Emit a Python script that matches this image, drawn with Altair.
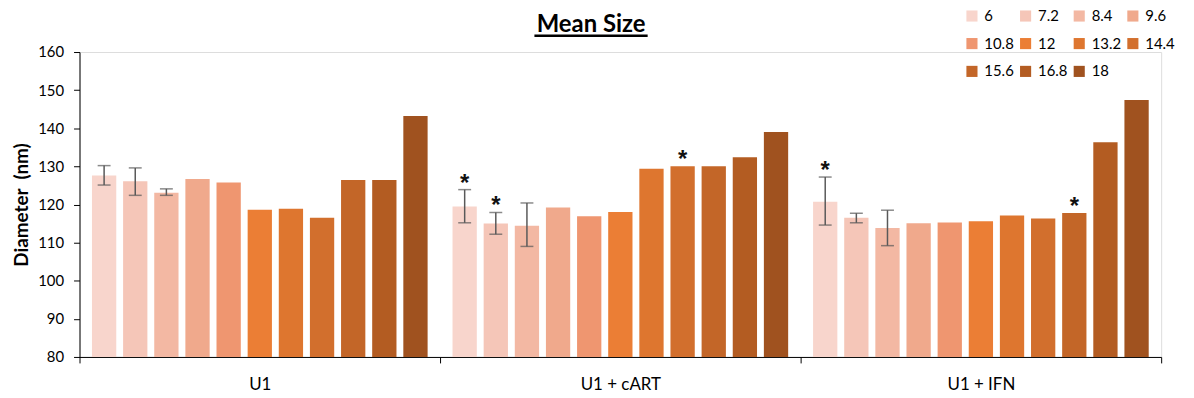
import altair as alt
import pandas as pd

GROUPS = ["U1", "U1 + cART", "U1 + IFN"]
SIZES = ["6", "7.2", "8.4", "9.6", "10.8", "12", "13.2", "14.4", "15.6", "16.8", "18"]
COLORS = ["#F8D5CC", "#F5C6B8", "#F3B8A3", "#F0A98C", "#EF9670", "#EB7E35",
          "#DE762F", "#D26F2D", "#C36628", "#B35C22", "#A0521F"]

MEAN_U1 = [127.6, 126.1, 123.1, 126.7, 125.8, 118.6, 118.9, 116.5, 126.4, 126.4, 143.2]
MEAN_CART = [119.5, 115.0, 114.4, 119.2, 116.9, 118.0, 129.4, 130.0, 130.0, 132.4, 139.0]
MEAN_IFN = [120.7, 116.5, 113.8, 115.1, 115.3, 115.6, 117.1, 116.3, 117.8, 136.3, 147.4]

ERR_GROUP = ["U1", "U1", "U1", "U1 + cART", "U1 + cART", "U1 + cART", "U1 + IFN", "U1 + IFN", "U1 + IFN"]
ERR_SIZE = ["6", "7.2", "8.4", "6", "7.2", "8.4", "6", "7.2", "8.4"]
ERR_LO = [125.1, 122.4, 122.4, 115.2, 112.2, 109.0, 114.6, 115.2, 109.2]
ERR_HI = [130.2, 129.6, 124.1, 123.9, 117.9, 120.4, 127.2, 117.7, 118.5]

STAR_GROUP = ["U1 + cART", "U1 + cART", "U1 + cART", "U1 + IFN", "U1 + IFN"]
STAR_SIZE = ["6", "7.2", "14.4", "6", "15.6"]
STAR_AT = [123.9, 117.9, 130.0, 127.2, 117.8]

TITLE = "Mean Size"
Y_TITLE = "Diameter\u00a0\u00a0(nm)"
Y_TICKS = [80, 90, 100, 110, 120, 130, 140, 150, 160]

FONT = "Lato"

rows = []
for g, vals in zip(GROUPS, [MEAN_U1, MEAN_CART, MEAN_IFN]):
    for s, v in zip(SIZES, vals):
        rows.append({"group": g, "size": s, "value": v})
bars_df = pd.DataFrame(rows)
err_df = pd.DataFrame({"group": ERR_GROUP, "size": ERR_SIZE, "lo": ERR_LO, "hi": ERR_HI})
star_df = pd.DataFrame({"group": STAR_GROUP, "size": STAR_SIZE, "top": STAR_AT})
title_df = pd.DataFrame({"t": [TITLE]})

x_scale = alt.Scale(domain=GROUPS, paddingInner=0, paddingOuter=0)
xo_scale = alt.Scale(domain=SIZES, paddingInner=0.22, paddingOuter=0.4)
y_scale = alt.Scale(domain=[80, 160], nice=False, zero=False)

x_axis = alt.Axis(labelAngle=0, tickBand="extent", tickSize=6, labelPadding=14,
                  labelFontSize=17, labelFont=FONT, labelColor="#000",
                  domainColor="#000", tickColor="#000", grid=False)
y_axis = alt.Axis(values=Y_TICKS, tickSize=6, labelPadding=10, labelFontSize=15,
                  labelFont=FONT, labelColor="#000", titleFont=FONT,
                  titleFontSize=19, titleFontWeight="bold", titleColor="#000",
                  titlePadding=6, domainColor="#000", tickColor="#000", grid=False,
                  labelOverlap=False)


def xpos():
    return alt.X("group:N", scale=x_scale, axis=x_axis, title=None)


def xopos():
    return alt.XOffset("size:N", scale=xo_scale)


def ypos(field):
    return alt.Y(field, scale=y_scale, axis=y_axis, title=Y_TITLE)


bars = alt.Chart(bars_df).mark_bar(clip=True).encode(
    x=xpos(),
    xOffset=xopos(),
    y=ypos("value:Q"),
    color=alt.Color("size:N", scale=alt.Scale(domain=SIZES, range=COLORS),
                    legend=alt.Legend(title=None, orient="none", legendX=891, legendY=-44,
                                      direction="horizontal",
                                      columns=4, symbolType="square", symbolSize=125,
                                      symbolStrokeWidth=0, labelFontSize=15, labelFont=FONT,
                                      labelColor="#000", labelOffset=5, columnPadding=4,
                                      rowPadding=12, gridAlign="all", padding=0)),
)

err_rule = alt.Chart(err_df).mark_rule(color="#595959", strokeWidth=1.5).encode(
    x=xpos(), xOffset=xopos(),
    y=ypos("lo:Q"),
    y2="hi:Q",
)
err_lo = alt.Chart(err_df).mark_tick(color="#595959", thickness=1.5, size=13).encode(
    x=xpos(), xOffset=xopos(),
    y=ypos("lo:Q"),
)
err_hi = alt.Chart(err_df).mark_tick(color="#595959", thickness=1.5, size=13).encode(
    x=xpos(), xOffset=xopos(),
    y=ypos("hi:Q"),
)

stars = alt.Chart(star_df).mark_text(text="*", fontSize=24, font="Liberation Sans",
                                     fontWeight="bold", color="#111", baseline="alphabetic",
                                     dy=1).encode(
    x=xpos(), xOffset=xopos(),
    y=ypos("top:Q"),
)

title_txt = alt.Chart(title_df).mark_text(fontSize=24, font=FONT, fontWeight="bold",
                                          color="#000", baseline="alphabetic",
                                          align="center").encode(
    text="t:N", x=alt.value(515), y=alt.value(-20.5),
)
underline = alt.Chart(title_df).mark_rule(color="#000", strokeWidth=2.5).encode(
    x=alt.value(458), x2=alt.value(572), y=alt.value(-16.5),
)

chart = alt.layer(bars, err_rule, err_lo, err_hi, stars, title_txt, underline).properties(
    width=1089, height=307,
    autosize=alt.AutoSizeParams(type="none"),
    padding={"left": 72, "top": 43, "right": 25, "bottom": 40},
).configure_view(stroke="transparent", strokeWidth=0).configure(background="white")

chart.save("out.html", embed_options={"renderer": "svg", "actions": False})
